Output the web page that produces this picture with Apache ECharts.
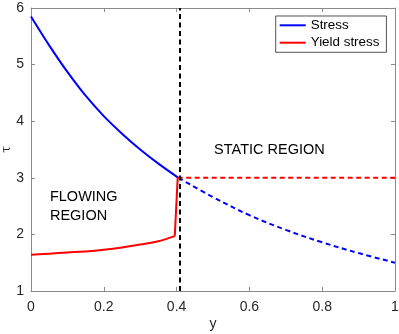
<!DOCTYPE html>
<html style="height: 100%">
<head>
<meta charset="utf-8">
<script src="https://cdn.jsdelivr.net/npm/echarts@6/dist/echarts.min.js"></script>
</head>
<body style="height: 100%; margin: 0; background: #fff">
<div id="container" style="width: 399px; height: 334px"></div>
<script type="text/javascript">
// stress, flowing part (solid) and static part (dashed)
var yFlow = [0, 0.05, 0.1, 0.15, 0.2, 0.25, 0.3, 0.35, 0.405];
var stressFlow = [5.85, 5.34, 4.87, 4.45, 4.09, 3.78, 3.50, 3.25, 3.0];
var yStatic = [0.405, 0.5, 0.6, 0.7, 0.8, 0.9, 1.0];
var stressStatic = [3.0, 2.66, 2.34, 2.08, 1.86, 1.67, 1.50];
// yield stress
var yYield = [0, 0.05, 0.1, 0.15, 0.2, 0.25, 0.3, 0.35, 0.395];
var yieldFlow = [1.64, 1.66, 1.68, 1.70, 1.73, 1.77, 1.82, 1.88, 1.97];
var yJump = [0.395, 0.403];
var yieldJump = [1.97, 3.0];
var yYieldStatic = [0.403, 1.0];
var yieldStatic = [3.0, 3.0];
var boundary = 0.407;

var notes = [
    {text: 'STATIC REGION', x: 0.503, y: 3.49},
    {text: 'FLOWING', x: 0.052, y: 2.66},
    {text: 'REGION', x: 0.052, y: 2.33}
];

function pairs(xs, ys) {
    return xs.map(function (x, i) { return [x, ys[i]]; });
}

var font = 'Liberation Sans, Arial, sans-serif';
var axisCol = '#8a8a8a';
var textCol = '#262626';

var dom = document.getElementById('container');
var myChart = echarts.init(dom, null, {renderer: 'canvas'});

function xAx(pos, labels) {
    return {
        type: 'value', position: pos, min: 0, max: 1, interval: 0.2,
        name: labels ? 'y' : '', nameLocation: 'middle', nameGap: 26, nameMoveOverlap: false,
        nameTextStyle: {fontFamily: font, fontSize: 14, color: textCol},
        axisLine: {show: true, onZero: false, lineStyle: {color: axisCol, width: 1}},
        axisTick: {show: true, inside: true, length: 4, lineStyle: {color: axisCol}},
        axisLabel: {show: labels, margin: 9, fontFamily: font, fontSize: 14, color: textCol,
            formatter: function (v) { return String(+v.toFixed(1)); }},
        splitLine: {show: false}
    };
}
function yAx(pos, labels) {
    return {
        type: 'value', position: pos, min: 1, max: 6, interval: 1,
        name: labels ? '\u03c4' : '', nameLocation: 'middle', nameGap: 18, nameRotate: 90,
        nameMoveOverlap: false,
        nameTextStyle: {fontFamily: 'DejaVu Serif, serif', fontSize: 12, color: textCol},
        axisLine: {show: true, onZero: false, lineStyle: {color: axisCol, width: 1}},
        axisTick: {show: true, inside: true, length: 4, lineStyle: {color: axisCol}},
        axisLabel: {show: labels, margin: 7, fontFamily: font, fontSize: 14, color: textCol},
        splitLine: {show: false}
    };
}

var dash = [5, 3.5];
var option = {
    animation: false,
    backgroundColor: '#fff',
    grid: {left: 31, right: 4, top: 8, bottom: 43, containLabel: false, outerBoundsMode: 'none'},
    xAxis: [xAx('bottom', true), xAx('top', false)],
    yAxis: [yAx('left', true), yAx('right', false)],
    legend: {
        data: ['Stress', 'Yield stress'],
        orient: 'vertical', left: 275.7, top: 16,
        padding: [2.3, 7, 2.6, 4],
        icon: 'rect',
        itemWidth: 26, itemHeight: 2, itemGap: 3.4,
        borderColor: '#262626', borderWidth: 0.8,
        backgroundColor: '#fff',
        selectedMode: false,
        textStyle: {fontFamily: font, fontSize: 13.4, color: '#000', lineHeight: 14}
    },
    series: [
        {
            name: 'Stress', type: 'line', symbol: 'none', smooth: 0.4,
            data: pairs(yFlow, stressFlow),
            lineStyle: {color: '#0000ff', width: 2}, itemStyle: {color: '#0000ff'},
            z: 3
        },
        {
            name: 'Stress static', type: 'line', symbol: 'none', smooth: 0.4,
            data: pairs(yStatic, stressStatic),
            lineStyle: {color: '#0000ff', width: 2, type: dash}, z: 3
        },
        {
            name: 'Yield stress', type: 'line', symbol: 'none', smooth: 0.4,
            data: pairs(yYield, yieldFlow),
            lineStyle: {color: '#ff0000', width: 2}, itemStyle: {color: '#ff0000'},
            z: 3
        },
        {
            name: 'Yield jump', type: 'line', symbol: 'none',
            data: pairs(yJump, yieldJump),
            lineStyle: {color: '#ff0000', width: 2}, z: 3
        },
        {
            name: 'Yield static', type: 'line', symbol: 'none',
            data: pairs(yYieldStatic, yieldStatic),
            lineStyle: {color: '#ff0000', width: 2, type: dash}, z: 3,
            markLine: {
                silent: true, symbol: 'none', label: {show: false},
                lineStyle: {color: '#000', width: 2, type: dash},
                data: [{xAxis: boundary}]
            }
        }
    ]
};
myChart.setOption(option, true);

// region captions placed from data coordinates
var g = notes.map(function (n) {
    var p = myChart.convertToPixel({gridIndex: 0}, [n.x, n.y]);
    return {
        type: 'text', x: p[0], y: p[1], z: 10,
        style: {text: n.text, fontFamily: font, fontSize: 14.5, fill: '#000',
            textAlign: 'left', textVerticalAlign: 'middle'}
    };
});
myChart.setOption({graphic: g});
</script>
</body>
</html>
